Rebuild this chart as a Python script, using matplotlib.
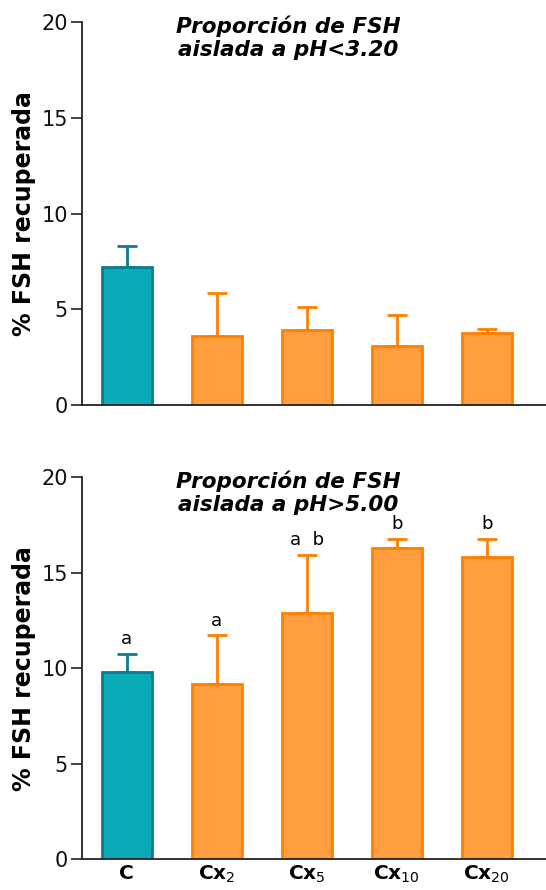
import numpy as np
import matplotlib
matplotlib.use("Agg")
import matplotlib.pyplot as plt

# data
grupos = ['C', 'Cx$_{2}$', 'Cx$_{5}$', 'Cx$_{10}$', 'Cx$_{20}$']
acido_media = [7.2, 3.6, 3.92, 3.08, 3.74]
acido_err = [1.12, 2.23, 1.18, 1.64, 0.23]
basico_media = [9.79, 9.18, 12.9, 16.31, 15.81]
basico_err = [0.96, 2.55, 3.03, 0.48, 0.98]
letras = ['a', 'a', 'a  b', 'b', 'b']
titulos = ['Proporción de FSH\naislada a pH<3.20',
           'Proporción de FSH\naislada a pH>5.00']

fill = ['#0AAAB6'] + ['#FF9D3F'] * 4
edge = ['#0B7D8E'] + ['#FF8000'] * 4

fig = plt.figure(figsize=(5.46, 8.90), dpi=100)
ax1 = fig.add_axes([0.150, 0.545, 0.85, 0.430])
ax2 = fig.add_axes([0.150, 0.0345, 0.85, 0.429])

x = np.arange(len(grupos))

def panel(ax, media, err, titulo, etiquetas):
    for i in range(len(media)):
        ax.bar(x[i], media[i], width=0.555, color=fill[i], edgecolor=edge[i],
               linewidth=2.0, zorder=2)
        ax.errorbar(x[i], media[i], yerr=[[0], [err[i]]], fmt='none',
                    ecolor=edge[i], elinewidth=2.0, capsize=7.5,
                    capthick=2.0, zorder=1)
    ax.set_xlim(-0.5, 4.66)
    ax.set_ylim(0, 20)
    ax.set_yticks([0, 5, 10, 15, 20])
    ax.tick_params(axis='y', labelsize=15, length=8, width=1.2, pad=2,
                   colors='#222222', labelcolor='#111111')
    ax.tick_params(axis='x', length=0)
    for s in ['top', 'right']:
        ax.spines[s].set_visible(False)
    for s in ['left', 'bottom']:
        ax.spines[s].set_linewidth(1.3)
        ax.spines[s].set_color('#222222')
    ax.set_ylabel('% FSH recuperada', fontsize=17, fontweight='bold')
    ax.yaxis.set_label_coords(-0.098, 0.5)
    ax.text(0.444, 0.96, titulo, transform=ax.transAxes, ha='center',
            va='center', fontsize=15.5, fontweight='bold', style='italic',
            linespacing=1.22)
    if etiquetas:
        ax.set_xticks(x)
        ax.set_xticklabels(grupos, fontsize=14.5, fontweight='bold')
    else:
        ax.set_xticks([])

panel(ax1, acido_media, acido_err, titulos[0], False)
panel(ax2, basico_media, basico_err, titulos[1], True)

for i in range(len(grupos)):
    ax2.text(x[i], basico_media[i] + basico_err[i] + 0.3, letras[i],
             ha='center', va='bottom', fontsize=13)

fig.savefig('out.png', dpi=100)
